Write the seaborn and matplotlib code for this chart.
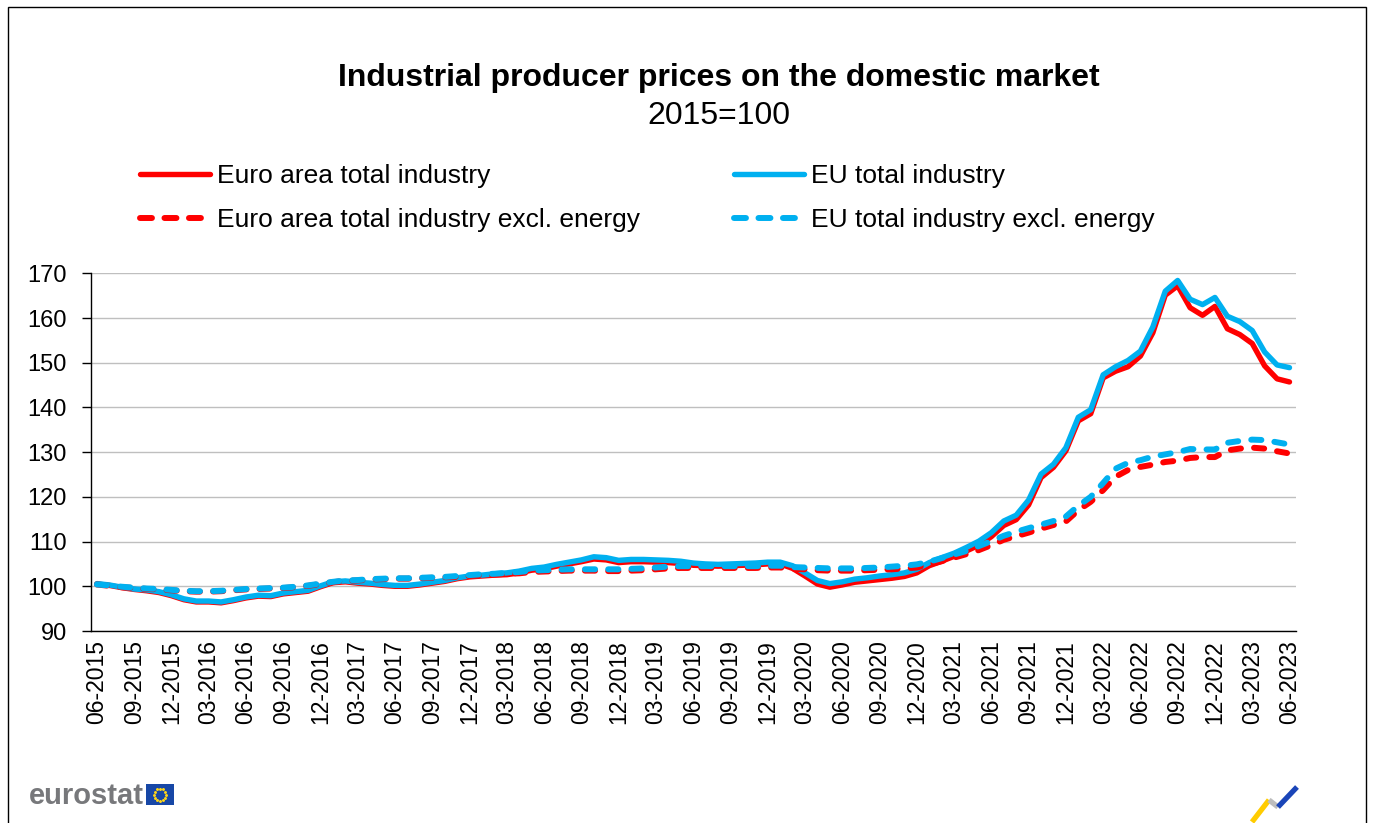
import numpy as np
import pandas as pd
import matplotlib
matplotlib.use("Agg")
import matplotlib.pyplot as plt
import seaborn as sns
from matplotlib.lines import Line2D
from matplotlib.patches import Rectangle

sns.set_style("white")
plt.rcParams['font.family'] = ['Liberation Sans', 'DejaVu Sans']
plt.rcParams['text.color'] = 'black'
plt.rcParams['axes.labelcolor'] = 'black'
plt.rcParams['xtick.color'] = 'black'
plt.rcParams['ytick.color'] = 'black'

# ---------------- data ----------------
months = pd.date_range('2015-06-01', '2023-06-01', freq='MS').strftime('%m-%Y').tolist()

ea_total = [100.5, 100.2, 99.7, 99.3, 99.0, 98.6, 97.9, 97.0, 96.5, 96.5,
            96.3, 96.8, 97.4, 97.8, 97.7, 98.3, 98.6, 98.9, 99.9, 100.8,
            101.0, 100.7, 100.5, 100.2, 100.0, 100.0, 100.3, 100.7, 101.1, 101.7,
            102.1, 102.3, 102.5, 102.6, 103.0, 103.6, 103.9, 104.5, 105.0, 105.5,
            106.1, 105.9, 105.3, 105.5, 105.5, 105.4, 105.3, 105.1, 104.7, 104.6,
            104.5, 104.6, 104.7, 104.8, 105.0, 105.0, 104.0, 102.3, 100.5, 99.8,
            100.3, 100.9, 101.2, 101.5, 101.8, 102.2, 103.0, 104.6, 105.6, 106.7,
            107.9, 109.2, 111.1, 113.6, 114.9, 118.2, 124.3, 126.6, 130.3, 137.0,
            138.6, 146.6, 148.1, 149.1, 151.5, 156.7, 165.1, 167.2, 162.3, 160.6,
            162.6, 157.6, 156.3, 154.3, 149.3, 146.4, 145.7]

eu_total = [100.6, 100.3, 99.8, 99.4, 99.2, 98.8, 98.1, 97.2, 96.7, 96.7,
            96.5, 97.0, 97.6, 98.0, 97.9, 98.5, 98.8, 99.1, 100.1, 101.0,
            101.2, 100.9, 100.7, 100.4, 100.2, 100.2, 100.5, 100.9, 101.3, 101.9,
            102.3, 102.5, 102.8, 103.0, 103.4, 104.0, 104.3, 104.9, 105.4, 105.9,
            106.6, 106.4, 105.8, 106.0, 106.0, 105.9, 105.8, 105.6, 105.2, 105.0,
            104.9, 105.0, 105.1, 105.2, 105.4, 105.4, 104.6, 103.0, 101.3, 100.6,
            101.0, 101.6, 101.9, 102.3, 102.6, 103.0, 103.8, 105.3, 106.4, 107.4,
            108.7, 110.1, 112.0, 114.6, 115.9, 119.3, 125.1, 127.3, 131.0, 137.8,
            139.5, 147.3, 149.1, 150.5, 152.6, 158.0, 166.0, 168.4, 164.2, 163.0,
            164.6, 160.4, 159.2, 157.2, 152.4, 149.5, 148.9]

ea_excl = [100.4, 100.1, 99.8, 99.6, 99.4, 99.3, 99.1, 98.9, 98.8, 98.8,
           98.9, 99.1, 99.3, 99.4, 99.5, 99.6, 99.8, 100.1, 100.5, 100.9,
           101.2, 101.3, 101.5, 101.6, 101.7, 101.7, 101.8, 101.9, 102.0, 102.1,
           102.3, 102.5, 102.6, 102.8, 102.9, 103.2, 103.3, 103.4, 103.5, 103.5,
           103.5, 103.4, 103.4, 103.5, 103.6, 103.8, 104.0, 104.1, 104.1, 104.1,
           104.1, 104.1, 104.1, 104.1, 104.2, 104.2, 103.9, 103.8, 103.6, 103.5,
           103.5, 103.5, 103.6, 103.7, 103.8, 104.0, 104.2, 104.9, 105.6, 106.4,
           107.2, 108.1, 109.2, 110.4, 111.2, 112.0, 112.9, 113.7, 114.5, 117.0,
           118.9, 121.5, 124.5, 126.0, 126.7, 127.2, 127.8, 128.1, 128.7, 128.9,
           128.9, 130.4, 130.8, 131.0, 130.8, 130.2, 129.7]

eu_excl = [100.4, 100.2, 99.9, 99.7, 99.5, 99.4, 99.2, 99.0, 98.9, 98.9,
           99.0, 99.2, 99.4, 99.5, 99.6, 99.7, 99.9, 100.2, 100.6, 101.0,
           101.3, 101.4, 101.6, 101.7, 101.8, 101.8, 101.9, 102.0, 102.1, 102.3,
           102.5, 102.7, 102.8, 103.0, 103.2, 103.5, 103.6, 103.7, 103.8, 103.8,
           103.8, 103.8, 103.8, 103.9, 104.0, 104.2, 104.4, 104.5, 104.5, 104.5,
           104.5, 104.5, 104.5, 104.5, 104.6, 104.6, 104.3, 104.2, 104.1, 104.0,
           104.0, 104.0, 104.1, 104.2, 104.4, 104.6, 104.9, 105.5, 106.3, 107.1,
           107.9, 109.0, 110.1, 111.3, 112.2, 113.0, 113.8, 114.6, 115.6, 118.0,
           120.0, 123.1, 126.3, 127.6, 128.2, 129.0, 129.5, 130.0, 130.7, 130.6,
           130.6, 132.1, 132.5, 132.8, 132.7, 132.2, 131.7]

series_labels = ['Euro area total industry', 'EU total industry',
                 'Euro area total industry excl. energy', 'EU total industry excl. energy']
y_ticks = [90, 100, 110, 120, 130, 140, 150, 160, 170]

# ---------------- figure ----------------
W, H = 1373, 823
fig = plt.figure(figsize=(W / 100, H / 100), dpi=100)
fig.patch.set_facecolor('white')

def fx(px):
    return px / W

def fy(py):
    return 1 - py / H

ax = fig.add_axes([fx(90.7), fy(631), fx(1295.7) - fx(90.7), fy(273.3) - fy(631)])

x = np.arange(len(months))
RED, BLUE = '#FF0000', '#00B0F0'
styles = [
    (ea_total, series_labels[0], RED, False),
    (eu_total, series_labels[1], BLUE, False),
    (ea_excl, series_labels[2], RED, True),
    (eu_excl, series_labels[3], BLUE, True),
]
handles = {}
for vals, label, color, dashed in styles:
    sns.lineplot(x=x, y=vals, ax=ax, color=color, legend=False)
    ln = ax.lines[-1]
    if dashed:
        ln.set_linewidth(4.3)
        ln.set_dashes([1.7, 2.2])
        ln.set_dash_capstyle('round')
        ln.set_dash_joinstyle('round')
    else:
        ln.set_linewidth(3.9)
        ln.set_solid_capstyle('round')
        ln.set_solid_joinstyle('round')
    h = Line2D([0], [0], color=color, lw=ln.get_linewidth())
    if dashed:
        h.set_dashes([2.0, 2.1])
        h.set_dash_capstyle('round')
    handles[label] = h

ax.set_xlim(-0.5, len(months) - 0.5)
ax.set_ylim(90, 170)
ax.set_yticks(y_ticks)
ax.set_yticklabels([str(v) for v in y_ticks])
ax.set_xticks(x[::3])
ax.set_xticklabels(months[::3], rotation=90)
ax.set_xticks(np.arange(-0.5, len(months), 1), minor=True)
ax.tick_params(axis='x', which='major', length=0, pad=6.5, labelsize=16.5, labelcolor='black')
ax.tick_params(axis='x', which='minor', length=5, width=1, color='black', direction='out')
ax.tick_params(axis='y', which='major', length=6.5, width=1, color='black', pad=10.8, labelsize=17,
               direction='out', left=True, labelcolor='black')
ax.set_xlabel('')
ax.set_ylabel('')
ax.yaxis.grid(True, color='#BFBFBF', lw=1.0)
ax.xaxis.grid(False)
ax.set_axisbelow(True)
for s in ['top', 'right']:
    ax.spines[s].set_visible(False)
for s in ['left', 'bottom']:
    ax.spines[s].set_color('black')
    ax.spines[s].set_linewidth(1.0)
ax.spines['bottom'].set_zorder(5)

# title
fig.text(fx(719), fy(78), 'Industrial producer prices on the domestic market',
         ha='center', va='center', fontsize=23, fontweight='bold', color='black')
fig.text(fx(719), fy(116), '2015=100', ha='center', va='center', fontsize=23, color='black')

# legend
order = [series_labels[0], series_labels[2], series_labels[1], series_labels[3]]
leg = fig.legend([handles[l] for l in order], order, ncol=2, loc='upper left',
                 bbox_to_anchor=(fx(140), fy(164)), frameon=False, fontsize=19,
                 handlelength=2.65, handletextpad=0.27, columnspacing=3.56,
                 labelspacing=0.76, borderpad=0, borderaxespad=0)
for t in leg.get_texts():
    t.set_color('black')

# frame around chart
fig.add_artist(Rectangle((fx(8), -0.05), fx(1366) - fx(8), fy(7) + 0.05, fill=False,
                         edgecolor='black', lw=1.0, transform=fig.transFigure))

# eurostat logo
fig.text(fx(29), fy(796), 'eurostat', ha='left', va='center', fontsize=21,
         fontweight='bold', color='#77787B')
fig.add_artist(Rectangle((fx(146), fy(805)), fx(174) - fx(146), fy(784) - fy(805),
                         facecolor='#1747A6', edgecolor='none', transform=fig.transFigure))
ang = np.linspace(0, 2 * np.pi, 12, endpoint=False)
fig.add_artist(Line2D(fx(160 + 6 * np.cos(ang)), fy(794.5 + 6 * np.sin(ang)), ls='none',
                      marker='o', ms=1.1, color='#FFD617', transform=fig.transFigure))

# bottom-right logo
fig.add_artist(Line2D([fx(1252), fx(1269)], [fy(822), fy(800)], color='#FFCC00', lw=3.8,
                      solid_capstyle='butt', transform=fig.transFigure))
fig.add_artist(Line2D([fx(1269), fx(1278)], [fy(800), fy(807)], color='#BDBDBD', lw=3.8,
                      solid_capstyle='butt', transform=fig.transFigure))
fig.add_artist(Line2D([fx(1278), fx(1297)], [fy(807), fy(787)], color='#1A45B8', lw=3.8,
                      solid_capstyle='butt', transform=fig.transFigure))

fig.savefig('out.png', dpi=100, facecolor='white')
